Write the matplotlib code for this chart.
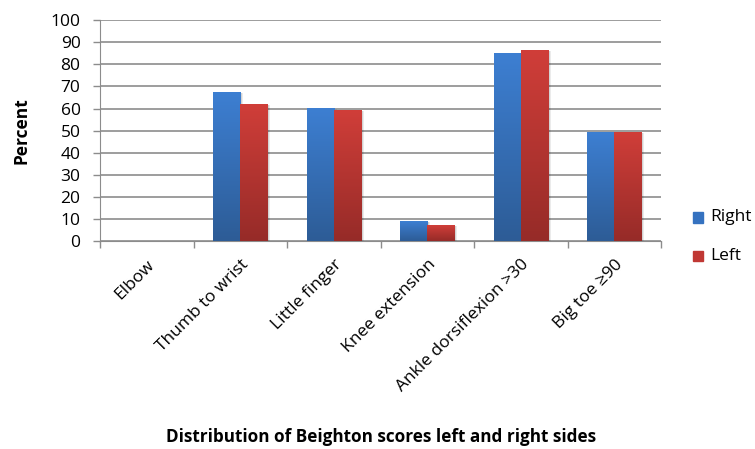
import numpy as np
import matplotlib.pyplot as plt
from matplotlib.colors import LinearSegmentedColormap
from matplotlib.patches import Rectangle

plt.rcParams['font.family'] = ['Open Sans', 'DejaVu Sans']

categories = ['Elbow', 'Thumb to wrist', 'Little finger', 'Knee extension',
              'Ankle dorsiflexion >30', 'Big toe \u226590']
right = [0, 67.4, 60.2, 9.0, 85.1, 49.3]
left = [0, 62.0, 59.3, 7.2, 86.4, 49.3]

blue_cm = LinearSegmentedColormap.from_list('b', ['#2d5c96', '#3d7fd2'])
red_cm = LinearSegmentedColormap.from_list('r', ['#962b28', '#d03e39'])

fig = plt.figure(figsize=(7.55, 4.49), dpi=100)
ax = fig.add_axes([0.1325, 0.463, 0.743, 0.492])

x = np.arange(len(categories))
w = 0.29
grad = np.linspace(0, 1, 256).reshape(-1, 1)


def gradient_bars(xs, vals, cmap):
    for xi, v in zip(xs, vals):
        if v <= 0:
            continue
        # soft shadow
        for k, a in [(0.03, 0.08), (0.018, 0.10)]:
            ax.add_patch(Rectangle((xi - w / 2 + k, 0), w, v - k * 10,
                                   color='black', alpha=a, lw=0, zorder=2))
        bar = Rectangle((xi - w / 2, 0), w, v, facecolor='none', lw=0, zorder=3)
        ax.add_patch(bar)
        im = ax.imshow(grad, cmap=cmap, aspect='auto', origin='lower',
                       extent=[xi - w / 2, xi + w / 2, 0, v], zorder=3)
        im.set_clip_path(bar)


gradient_bars(x - w / 2, right, blue_cm)
gradient_bars(x + w / 2, left, red_cm)

ax.set_xlim(-0.5, len(categories) - 0.5)
ax.set_ylim(0, 100)
ax.set_yticks(range(0, 101, 10))
ax.grid(axis='y', color='#8c8c8c', lw=1.2)
ax.set_axisbelow(True)
for s in ['top', 'right']:
    ax.spines[s].set_visible(False)
ax.spines['left'].set_color('#8c8c8c')
ax.spines['bottom'].set_color('#8c8c8c')
ax.tick_params(axis='y', colors='#8c8c8c', labelcolor='black', labelsize=12.5,
               length=5, width=1, pad=9)
ax.set_xticks(np.arange(-0.5, len(categories), 1))
ax.set_xticklabels([])
ax.tick_params(axis='x', colors='#8c8c8c', length=5, width=1)

for xi, lab in zip(x, categories):
    ax.text(xi + 0.0, -7, lab, rotation=45, ha='right', va='top',
            rotation_mode='anchor', fontsize=12.5)

fig.text(0.029, 0.71, 'Percent', rotation=90, ha='center', va='center',
         fontsize=12.5, fontweight='bold')
fig.text(0.505, 0.027, 'Distribution of Beighton scores left and right sides',
         ha='center', va='center', fontsize=12.3, fontweight='bold')

# legend
fig.patches.append(Rectangle((0.918, 0.504), 0.0135, 0.024, color='#3572c0',
                             transform=fig.transFigure, figure=fig))
fig.patches.append(Rectangle((0.918, 0.418), 0.0135, 0.024, color='#c03834',
                             transform=fig.transFigure, figure=fig))
fig.text(0.941, 0.516, 'Right', fontsize=12.5, va='center')
fig.text(0.941, 0.430, 'Left', fontsize=12.5, va='center')

fig.savefig('out.png', dpi=100)
